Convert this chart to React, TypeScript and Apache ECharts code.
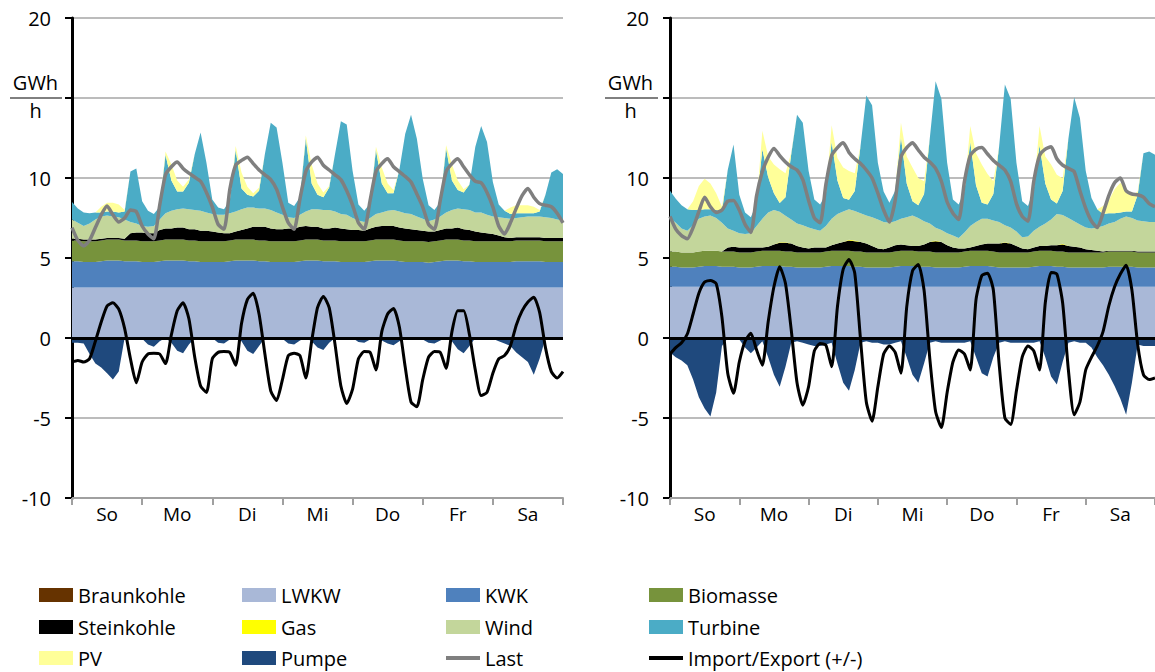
import React, { useEffect, useRef } from "react";
import * as echarts from "echarts";

// ---------- categories ----------
const days = ["So", "Mo", "Di", "Mi", "Do", "Fr", "Sa"];
const hourSteps = [0, 2, 4, 6, 8, 10, 12, 14, 16, 18, 20, 22];
const hours: string[] = days
  .flatMap((d) => hourSteps.map((h) => `${d} ${h}:00`))
  .concat([`${days[6]} 24:00`]);

// ---------- left chart (GWh/h, 2-hourly) ----------
const braunL = [0,0,0,0,0,0,0,0,0,0,0,0, 0,0,0,0,0,0,0,0,0,0,0,0, 0,0,0,0,0,0,0,0,0,0,0,0, 0,0,0,0,0,0,0,0,0,0,0,0, 0,0,0,0,0,0,0,0,0,0,0,0, 0,0,0,0,0,0,0,0,0,0,0,0, 0,0,0,0,0,0,0,0,0,0,0,0, 0];
const lwkwL = [3.15,3.15,3.15,3.15,3.15,3.15,3.15,3.15,3.15,3.15,3.15,3.15, 3.15,3.15,3.15,3.15,3.15,3.15,3.15,3.15,3.15,3.15,3.15,3.15, 3.15,3.15,3.15,3.15,3.15,3.15,3.15,3.15,3.15,3.15,3.15,3.15, 3.15,3.15,3.15,3.15,3.15,3.15,3.15,3.15,3.15,3.15,3.15,3.15, 3.15,3.15,3.15,3.15,3.15,3.15,3.15,3.15,3.15,3.15,3.15,3.15, 3.15,3.15,3.15,3.15,3.15,3.15,3.15,3.15,3.15,3.15,3.15,3.15, 3.15,3.15,3.15,3.15,3.15,3.15,3.15,3.15,3.15,3.15,3.15,3.15, 3.15];
const kwkL = [1.65,1.65,1.6,1.6,1.6,1.65,1.7,1.7,1.7,1.65,1.65,1.65, 1.6,1.6,1.6,1.65,1.7,1.7,1.7,1.7,1.65,1.65,1.6,1.6, 1.6,1.6,1.6,1.65,1.7,1.7,1.7,1.7,1.65,1.65,1.6,1.6, 1.6,1.6,1.6,1.65,1.7,1.7,1.7,1.65,1.65,1.65,1.6,1.6, 1.6,1.6,1.6,1.65,1.7,1.7,1.7,1.7,1.65,1.6,1.6,1.6, 1.6,1.55,1.6,1.65,1.7,1.7,1.7,1.65,1.65,1.6,1.6,1.6, 1.6,1.6,1.6,1.6,1.65,1.65,1.65,1.65,1.65,1.6,1.6,1.6, 1.6];
const bioL = [1.3,1.3,1.3,1.3,1.3,1.3,1.3,1.3,1.3,1.3,1.3,1.3, 1.3,1.3,1.3,1.3,1.3,1.3,1.3,1.3,1.3,1.3,1.3,1.3, 1.3,1.3,1.3,1.3,1.3,1.3,1.3,1.3,1.3,1.3,1.3,1.3, 1.3,1.3,1.3,1.3,1.3,1.3,1.3,1.3,1.3,1.3,1.3,1.3, 1.3,1.3,1.3,1.3,1.3,1.3,1.3,1.3,1.3,1.3,1.3,1.3, 1.3,1.3,1.3,1.3,1.3,1.3,1.3,1.3,1.3,1.3,1.3,1.3, 1.3,1.3,1.3,1.3,1.3,1.3,1.3,1.3,1.3,1.3,1.3,1.3, 1.3];
const steinL = [0.1,0.1,0.1,0.1,0.1,0.1,0.1,0.1,0.1,0.1,0.45,0.5, 0.55,0.5,0.5,0.65,0.7,0.7,0.75,0.75,0.7,0.7,0.65,0.65, 0.6,0.55,0.5,0.45,0.5,0.6,0.7,0.8,0.85,0.85,0.8,0.75, 0.75,0.8,0.8,0.85,0.85,0.8,0.8,0.75,0.75,0.8,0.8,0.75, 0.7,0.7,0.65,0.75,0.8,0.85,0.85,0.85,0.8,0.8,0.75,0.7, 0.65,0.65,0.6,0.65,0.7,0.7,0.75,0.7,0.65,0.6,0.55,0.5, 0.45,0.35,0.25,0.2,0.2,0.2,0.2,0.2,0.2,0.2,0.2,0.2, 0.2];
const gasL = [0,0,0,0,0,0,0,0,0,0,0,0, 0,0,0,0,0,0,0,0,0,0,0,0, 0,0,0,0,0,0,0,0,0,0,0,0, 0,0,0,0,0,0,0,0,0,0,0,0, 0,0,0,0,0,0,0,0,0,0,0,0, 0,0,0,0,0,0,0,0,0,0,0,0, 0,0,0,0,0,0,0,0,0,0,0,0, 0];
const windL = [1.2,1.0,0.85,1.0,1.25,1.4,1.4,1.35,1.3,1.2,0.7,0.55, 0.4,0.4,0.45,0.65,0.95,1.1,1.15,1.2,1.25,1.2,1.25,1.15, 1.1,1.1,1.15,1.25,1.25,1.3,1.3,1.2,1.15,1.15,1.15,1.05, 0.9,0.7,0.65,0.75,0.9,1.1,1.1,1.15,1.15,1.0,0.9,0.9, 0.75,0.6,0.55,0.65,0.8,0.85,0.95,1.0,1.0,0.95,0.95,0.85, 0.75,0.65,0.75,0.85,1.0,1.15,1.2,1.25,1.25,1.2,1.25,1.15, 1.1,1.15,1.2,1.2,1.2,1.25,1.3,1.3,1.3,1.3,1.25,1.15, 1.1];
const turbineL = [1.1,0.9,0.85,0.65,0.45,0.25,0.25,0.3,0.3,0.5,3.15,3.45, 1.55,1.0,0.75,0.8,3.65,1.9,1.1,1.05,1.65,3.5,4.9,3.1, 0.9,0.45,0.35,0.8,3.85,1.3,0.8,0.7,1.1,3.4,5.45,5.3, 3.25,0.9,0.75,1.1,4.55,1.6,0.9,0.8,1.4,3.6,5.8,5.65, 2.95,1.0,0.7,0.9,4.0,1.8,1.1,1.05,2.6,4.95,6.2,4.85, 2.5,1.0,0.6,0.9,4.0,1.85,1.15,1.05,1.6,4.1,5.4,4.55, 2.15,0.8,0.45,0.3,0.3,0.25,0.2,0.2,0.3,1.4,2.85,3.15, 2.9];
const pvL = [0,0,0,0,0,0.35,0.55,0.55,0.5,0.1,0,0, 0,0,0,0,0.2,1.0,0.7,0.3,0.2,0,0,0, 0,0,0,0,0.25,1.0,0.5,0.2,0.2,0,0,0, 0,0,0,0,0.2,1.2,0.7,0.3,0.1,0,0,0, 0,0,0,0,0.2,1.0,0.6,0.2,0,0,0,0, 0,0,0,0,0.2,1.0,0.6,0.2,0,0,0,0, 0,0,0,0.4,0.5,0.5,0.5,0.4,0.1,0,0,0, 0];
const pumpeL = [-0.3,-0.3,-0.35,-1.0,-1.6,-1.85,-2.2,-2.6,-2.1,0,0,0, -0.05,-0.4,-0.55,-0.2,0,-0.3,-0.8,-0.95,-0.4,0,0,0, 0,-0.3,-0.35,-0.1,0,-0.2,-0.8,-1.0,-0.5,0,0,0, -0.05,-0.35,-0.4,-0.15,0,-0.2,-0.6,-0.75,-0.3,0,0,0, 0,-0.25,-0.3,-0.1,0,-0.15,-0.35,-0.45,-0.2,0,0,0, -0.1,-0.3,-0.35,-0.15,0,-0.2,-0.7,-0.95,-0.5,0,0,0, -0.05,-0.2,-0.35,-0.5,-0.9,-1.2,-1.5,-2.3,-1.3,0,-0.05,-0.1, -0.1];
const lastL = [6.9,6.1,5.75,6.1,6.9,7.7,8.25,7.7,7.25,7.5,8.0,7.9, 7.0,6.5,6.2,8.3,10.2,10.7,11.0,10.6,10.3,10.05,9.8,9.1, 8.2,7.1,6.8,9.3,10.8,11.1,11.3,10.9,10.5,10.2,9.9,9.3, 8.2,7.2,6.8,8.7,10.4,11.0,11.3,10.8,10.5,10.2,9.9,9.2, 8.3,7.2,6.8,8.6,10.4,10.9,11.2,10.7,10.4,10.1,9.75,9.0, 8.2,7.1,6.8,8.6,10.4,10.9,11.2,10.7,10.2,9.8,9.7,9.1, 8.2,7.0,6.5,7.2,8.1,8.9,9.35,8.8,8.4,8.3,8.2,7.8, 7.2];
const impL = [-1.5,-1.4,-1.5,-1.3,-0.2,1.0,2.0,2.2,1.8,0.6,-1.3,-2.8, -1.5,-1.0,-0.95,-1.0,-1.6,0.2,1.7,2.2,1.2,-1.2,-3.0,-3.4, -1.3,-0.9,-0.85,-0.9,-1.7,0.9,2.4,2.8,1.5,-1.0,-3.3,-3.9, -2.6,-1.1,-0.95,-1.1,-2.5,-0.2,1.9,2.6,1.9,-0.4,-3.0,-4.1, -3.2,-1.3,-0.85,-0.9,-2.0,0.4,1.5,1.85,0.7,-1.8,-4.0,-4.3, -2.6,-1.2,-0.85,-0.9,-1.9,0.4,1.7,1.7,0.2,-2.0,-3.6,-3.4, -2.2,-1.3,-1.1,-0.5,0.8,1.7,2.25,2.55,1.6,-0.6,-2.1,-2.5, -2.1];

// ---------- right chart (GWh/h, 2-hourly) ----------
const braunR = [0,0,0,0,0,0,0,0,0,0,0,0, 0,0,0,0,0,0,0,0,0,0,0,0, 0,0,0,0,0,0,0,0,0,0,0,0, 0,0,0,0,0,0,0,0,0,0,0,0, 0,0,0,0,0,0,0,0,0,0,0,0, 0,0,0,0,0,0,0,0,0,0,0,0, 0,0,0,0,0,0,0,0,0,0,0,0, 0];
const lwkwR = [3.2,3.2,3.2,3.2,3.2,3.2,3.2,3.2,3.2,3.2,3.2,3.2, 3.2,3.2,3.2,3.2,3.2,3.2,3.2,3.2,3.2,3.2,3.2,3.2, 3.2,3.2,3.2,3.2,3.2,3.2,3.2,3.2,3.2,3.2,3.2,3.2, 3.2,3.2,3.2,3.2,3.2,3.2,3.2,3.2,3.2,3.2,3.2,3.2, 3.2,3.2,3.2,3.2,3.2,3.2,3.2,3.2,3.2,3.2,3.2,3.2, 3.2,3.2,3.2,3.2,3.2,3.2,3.2,3.2,3.2,3.2,3.2,3.2, 3.2,3.2,3.2,3.2,3.2,3.2,3.2,3.2,3.2,3.2,3.2,3.2, 3.2];
const kwkR = [1.25,1.25,1.2,1.2,1.2,1.25,1.3,1.3,1.3,1.25,1.25,1.25, 1.2,1.2,1.2,1.25,1.3,1.3,1.3,1.3,1.25,1.25,1.2,1.2, 1.2,1.2,1.2,1.25,1.3,1.3,1.3,1.3,1.25,1.25,1.2,1.2, 1.2,1.2,1.2,1.25,1.3,1.3,1.3,1.25,1.25,1.25,1.2,1.2, 1.2,1.2,1.2,1.25,1.3,1.3,1.3,1.3,1.25,1.2,1.2,1.2, 1.2,1.2,1.2,1.25,1.3,1.3,1.3,1.25,1.25,1.2,1.2,1.2, 1.2,1.2,1.2,1.2,1.25,1.25,1.25,1.25,1.25,1.2,1.2,1.2, 1.2];
const bioR = [0.95,0.95,0.95,0.95,0.95,0.95,0.95,0.95,0.95,0.95,0.95,0.95, 0.95,0.95,0.95,0.95,0.95,0.95,0.95,0.95,0.95,0.95,0.95,0.95, 0.95,0.95,0.95,0.95,0.95,0.95,0.95,0.95,0.95,0.95,0.95,0.95, 0.95,0.95,0.95,0.95,0.95,0.95,0.95,0.95,0.95,0.95,0.95,0.95, 0.95,0.95,0.95,0.95,0.95,0.95,0.95,0.95,0.95,0.95,0.95,0.95, 0.95,0.95,0.95,0.95,0.95,0.95,0.95,0.95,0.95,0.95,0.95,0.95, 0.95,0.95,0.95,0.95,0.95,0.95,0.95,0.95,0.95,0.95,0.95,0.95, 0.95];
const steinR = [0,0,0,0,0,0,0,0,0,0,0.25,0.3, 0.3,0.3,0.3,0.25,0.2,0.25,0.4,0.5,0.55,0.5,0.4,0.3, 0.25,0.3,0.3,0.25,0.35,0.45,0.55,0.65,0.65,0.6,0.55,0.4, 0.25,0.2,0.3,0.4,0.4,0.35,0.3,0.35,0.45,0.6,0.7,0.65, 0.45,0.3,0.25,0.2,0.2,0.3,0.4,0.45,0.5,0.55,0.6,0.55, 0.4,0.25,0.2,0.25,0.3,0.3,0.35,0.4,0.45,0.4,0.35,0.3, 0.2,0.15,0.1,0.05,0.05,0.05,0.05,0.05,0.05,0.05,0.05,0.05, 0.05];
const gasR = [0,0,0,0,0,0,0,0,0,0,0,0, 0,0,0,0,0,0,0,0.04,0.04,0,0,0, 0,0,0,0,0,0,0,0.04,0.04,0,0,0, 0,0,0,0,0,0,0,0,0,0,0.04,0, 0,0,0,0,0,0,0,0,0,0,0.04,0, 0,0,0,0,0,0,0,0,0.04,0,0,0, 0,0,0,0,0,0,0,0,0,0,0,0, 0];
const windR = [2.1,1.8,1.5,1.35,1.7,2.05,2.15,2.2,2.05,1.8,1.2,1.0, 0.9,0.85,0.9,1.35,1.8,2.15,2.15,1.9,1.65,1.5,1.4,1.4, 1.3,1.15,1.05,1.35,1.65,1.85,1.9,1.9,1.85,1.8,1.75,1.8, 1.8,1.7,1.55,1.5,1.6,1.75,1.9,1.75,1.45,1.15,0.8,0.75, 0.75,0.75,0.65,1.0,1.35,1.5,1.6,1.55,1.45,1.35,1.05,1.0, 0.9,0.7,0.8,1.05,1.2,1.4,1.6,1.95,1.8,1.75,1.6,1.45, 1.35,1.35,1.45,1.6,1.7,1.8,2.0,2.15,2.05,1.95,1.9,1.85, 1.85];
const turbineR = [1.7,1.5,1.45,1.35,0.95,0.55,0.45,0.4,0.5,0.7,3.65,5.4, 2.4,1.35,1.0,1.4,4.35,2.2,1.05,0.55,1.15,4.1,6.8,6.4, 3.55,1.85,1.65,2.0,4.8,2.1,0.85,0.6,1.25,4.2,7.5,7.0, 3.55,1.9,1.25,1.9,5.1,2.1,0.9,0.8,1.7,5.35,9.15,8.2, 4.4,2.25,2.1,2.6,5.25,2.3,1.0,0.9,1.65,4.7,8.8,8.05, 4.3,2.25,1.9,2.6,5.1,2.5,1.25,0.65,1.5,4.95,7.75,6.65, 3.55,1.9,1.15,0.75,0.65,0.55,0.4,0.3,0.4,1.6,4.25,4.4, 4.2];
const pvR = [0,0,0,0,0.55,1.5,1.9,1.6,1.05,0.3,0,0, 0,0,0,0,1.15,1.3,1.8,2.1,1.5,0.1,0,0, 0,0,0,0,1.05,1.4,1.9,1.8,1.1,0,0,0, 0,0,0,0,0.9,1.7,2.1,1.7,0.8,0,0,0, 0,0,0,0,1.0,2.0,2.4,1.9,0.8,0,0,0, 0,0,0,0,1.2,1.7,2.2,1.8,0.8,0,0,0, 0,0,0,0.5,0.8,1.5,1.85,1.4,1.0,0.2,0,0, 0];
const pumpeR = [-0.9,-1.2,-1.4,-1.7,-2.6,-3.7,-4.4,-4.9,-3.4,-0.5,0,-0.1, -0.1,-0.6,-0.95,-0.6,-0.2,-1.2,-2.3,-3.05,-1.8,-0.3,-0.2,-0.3, -0.4,-0.5,-0.5,-0.4,-0.3,-1.6,-2.8,-3.3,-2.0,-0.3,-0.2,-0.3, -0.3,-0.4,-0.4,-0.3,-0.2,-1.2,-2.3,-2.8,-1.6,-0.3,-0.2,-0.3, -0.3,-0.3,-0.3,-0.3,-0.2,-1.2,-2.2,-2.4,-1.2,-0.3,-0.2,-0.3, -0.3,-0.3,-0.3,-0.3,-0.2,-1.2,-2.4,-2.9,-1.5,-0.3,-0.2,-0.3, -0.3,-0.6,-1.2,-1.7,-2.3,-3.0,-3.8,-4.8,-2.8,-0.4,-0.5,-0.5, -0.5];
const lastR = [7.6,6.8,6.4,6.2,6.9,7.9,8.8,8.2,7.85,8.0,8.55,8.6, 8.0,7.1,6.6,8.9,10.4,11.3,11.85,11.4,11.0,10.7,10.5,9.9, 8.6,7.5,7.2,9.6,11.4,11.9,12.2,11.6,11.2,10.9,10.5,10.0, 9.05,8.0,7.25,8.6,11.3,11.9,12.2,11.75,11.3,11.0,10.6,9.8, 8.5,7.8,7.4,9.8,11.4,11.8,11.9,11.5,11.1,10.8,10.5,9.8, 8.4,7.6,7.3,9.8,11.4,11.8,11.95,11.2,10.8,10.6,10.4,9.2, 8.1,7.3,6.9,7.8,8.9,9.7,10.0,9.2,9.0,8.95,8.8,8.4, 8.2];
const impR = [-1.0,-0.6,-0.3,0.25,1.5,2.8,3.5,3.6,3.4,1.3,-2.2,-3.45, -1.5,-0.2,0.3,-0.75,-1.7,1.0,3.2,4.45,3.4,0.5,-2.8,-4.2, -3.05,-0.8,-0.35,-0.45,-1.8,1.95,4.3,4.9,4.05,-0.1,-4.0,-5.2, -3.05,-1.0,-0.5,-0.9,-2.2,1.95,4.2,4.6,3.0,-1.3,-4.6,-5.6, -3.4,-1.5,-0.75,-1.0,-2.0,2.4,3.9,4.05,3.0,-1.6,-5.0,-5.4, -3.3,-1.2,-0.5,-0.8,-2.0,2.2,4.1,4.0,2.2,-2.0,-4.8,-4.0, -2.0,-1.2,-0.5,0.4,2.0,3.2,4.0,4.55,3.0,-0.4,-2.3,-2.6, -2.5];

// ---------- legend layout (columns x rows) ----------
const legendColumns = [
  ["Braunkohle", "Steinkohle", "PV"],
  ["LWKW", "Gas", "Pumpe"],
  ["KWK", "Wind", "Last"],
  ["Biomasse", "Turbine", "Import/Export (+/-)"],
];

// ---------- styling ----------
const FONT = "Open Sans";
const COLORS: Record<string, string> = {
  Braunkohle: "#663300",
  LWKW: "#a9b8d7",
  KWK: "#4f81bd",
  Biomasse: "#77933c",
  Steinkohle: "#000000",
  Gas: "#ffff00",
  Wind: "#c3d69b",
  Turbine: "#4bacc6",
  PV: "#ffff99",
  Pumpe: "#1f497d",
  Last: "#7f7f7f",
  "Import/Export (+/-)": "#000000",
};
const LINE_NAMES = ["Last", "Import/Export (+/-)"];

const leftSets: [string, number[]][] = [
  ["LWKW", lwkwL], ["KWK", kwkL], ["Biomasse", bioL], ["Braunkohle", braunL],
  ["Steinkohle", steinL], ["Gas", gasL], ["Wind", windL], ["Turbine", turbineL], ["PV", pvL],
];
const rightSets: [string, number[]][] = [
  ["LWKW", lwkwR], ["KWK", kwkR], ["Biomasse", bioR], ["Braunkohle", braunR],
  ["Steinkohle", steinR], ["Gas", gasR], ["Wind", windR], ["Turbine", turbineR], ["PV", pvR],
];

const GRID_LEFTS = [72, 670];
const GRID_TOP = 18;
const GRID_W = 491;
const GRID_H = 480;
const LEG_X = [39, 242, 446, 649];
const LEG_Y = [595, 627, 658];

function buildSeries(gi: number, sets: [string, number[]][], pumpe: number[], last: number[], imp: number[]) {
  const xi = gi * 2;
  const out: any[] = [];
  for (const [name, data] of sets) {
    out.push({
      name, type: "line", xAxisIndex: xi, yAxisIndex: gi, data, stack: "s" + gi,
      symbol: "none", showSymbol: false, color: COLORS[name],
      itemStyle: { color: COLORS[name] },
      lineStyle: { width: 0, color: COLORS[name] },
      areaStyle: { color: COLORS[name], opacity: 1 },
      emphasis: { disabled: true }, silent: true,
    });
  }
  out.push({
    name: "Pumpe", type: "line", xAxisIndex: xi, yAxisIndex: gi, data: pumpe,
    symbol: "none", showSymbol: false, color: COLORS.Pumpe,
    itemStyle: { color: COLORS.Pumpe },
    lineStyle: { width: 0, color: COLORS.Pumpe },
    areaStyle: { color: COLORS.Pumpe, opacity: 1, origin: 0 },
    emphasis: { disabled: true }, silent: true,
  });
  out.push({
    name: "Last", type: "line", xAxisIndex: xi, yAxisIndex: gi, data: last,
    symbol: "none", showSymbol: false, smooth: 0.2, color: COLORS.Last,
    itemStyle: { color: COLORS.Last },
    lineStyle: { width: 3.5, color: COLORS.Last },
    emphasis: { disabled: true }, silent: true,
  });
  out.push({
    name: "Import/Export (+/-)", type: "line", xAxisIndex: xi, yAxisIndex: gi, data: imp,
    symbol: "none", showSymbol: false, smooth: 0.2, color: "#000",
    itemStyle: { color: "#000" },
    lineStyle: { width: 3, color: "#000" },
    emphasis: { disabled: true }, silent: true,
    markLine: {
      silent: true, symbol: ["none", "none"], label: { show: false },
      lineStyle: { color: "#000", width: 3, type: "solid" },
      emphasis: { disabled: true },
      data: [{ yAxis: 0 }],
    },
  });
  return out;
}

const LINE_ICON = "path://M0,0 L34,0 L34,4 L0,4 Z";

function buildLegends() {
  const out: any[] = [];
  legendColumns.forEach((col, ci) => {
    col.forEach((name, ri) => {
      out.push({
        left: LEG_X[ci], top: LEG_Y[ri] - 10, orient: "horizontal", padding: 0,
        icon: LINE_NAMES.includes(name) ? LINE_ICON : "rect",
        itemWidth: 34, itemHeight: 14, itemGap: 0,
        itemStyle: { borderWidth: 0 },
        selectedMode: false,
        textStyle: { fontFamily: FONT, fontSize: 20, color: "#000", lineHeight: 20 },
        data: [name],
      });
    });
  });
  return out;
}

export default function App() {
  const ref = useRef<HTMLDivElement>(null);
  useEffect(() => {
    document.body.style.margin = "0";
    document.body.style.overflow = "hidden";
    if (!ref.current) return;
    const chart = echarts.init(ref.current, undefined, { renderer: "svg" });
    const grids = GRID_LEFTS.map((l) => ({ left: l, top: GRID_TOP, width: GRID_W, height: GRID_H }));
    const xAxes: any[] = [];
    const yAxes: any[] = [];
    GRID_LEFTS.forEach((_, gi) => {
      xAxes.push({
        type: "category", gridIndex: gi, data: hours, boundaryGap: false, show: false, position: "top",
      });
      xAxes.push({
        type: "category", gridIndex: gi, data: days, boundaryGap: true, position: "bottom",
        axisLine: { show: true, onZero: false, lineStyle: { color: "#a0a0a0", width: 2 } },
        axisTick: { show: true, length: 7, lineStyle: { color: "#a0a0a0", width: 2 } },
        axisLabel: { color: "#000", fontSize: 19, fontFamily: FONT, margin: 6 },
        splitLine: { show: false },
      });
      yAxes.push({
        type: "value", gridIndex: gi, min: -10, max: 20, interval: 5,
        axisLine: { show: true, onZero: false, lineStyle: { color: "#000", width: 3 } },
        axisTick: { show: true, length: 7, lineStyle: { color: "#000", width: 2 } },
        axisLabel: {
          color: "#000", fontSize: 20, fontFamily: FONT, margin: 21,
          formatter: (v: number) => (v === 15 ? "" : String(v)),
        },
        splitLine: { show: true, lineStyle: { color: "#a6a6a6", width: 1.5 } },
      });
    });

    const unitGraphics: any[] = [];
    [[35.5, 10, 62], [630.5, 605, 658]].forEach(([cx, x1, x2]) => {
      unitGraphics.push({
        type: "text", x: cx, y: 82, silent: true,
        style: { text: "GWh", font: `20px '${FONT}'`, fill: "#000", textAlign: "center", textVerticalAlign: "middle" },
      });
      unitGraphics.push({
        type: "line", silent: true,
        shape: { x1, y1: 98, x2, y2: 98 },
        style: { stroke: "#000", lineWidth: 1 },
      });
      unitGraphics.push({
        type: "text", x: cx, y: 110, silent: true,
        style: { text: "h", font: `20px '${FONT}'`, fill: "#000", textAlign: "center", textVerticalAlign: "middle" },
      });
    });

    chart.setOption({
      animation: false,
      textStyle: { fontFamily: FONT },
      grid: grids,
      xAxis: xAxes,
      yAxis: yAxes,
      legend: buildLegends(),
      graphic: unitGraphics,
      series: [
        ...buildSeries(0, leftSets, pumpeL, lastL, impL),
        ...buildSeries(1, rightSets, pumpeR, lastR, impR),
      ],
    });
    return () => chart.dispose();
  }, []);
  return <div ref={ref} style={{ width: 1155, height: 672 }} />;
}
